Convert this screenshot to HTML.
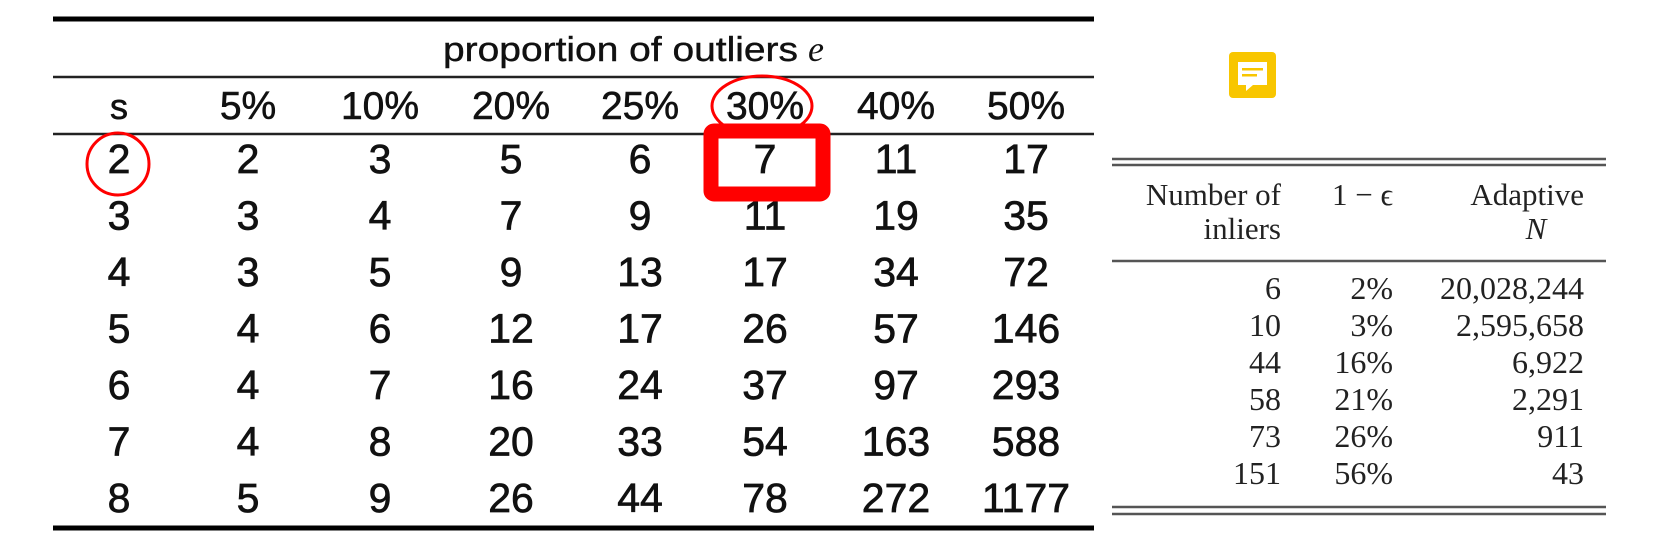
<!DOCTYPE html>
<html><head><meta charset="utf-8"><style>
html,body{margin:0;padding:0;background:#fff;}
svg{display:block;}
</style></head><body>
<svg id="chart" width="1653" height="545" viewBox="0 0 1653 545" xmlns="http://www.w3.org/2000/svg">
<rect width="1653" height="545" fill="#fff"/>
<g id="left"></g>
<g id="right"></g>
<g>
<rect x="1229" y="52" width="47" height="46" rx="4" fill="#F8C600"/>
<path d="M1238 62 H1267 V85 H1253 L1246 91 V85 H1238 Z" fill="#fff"/>
<rect x="1242" y="68" width="21" height="2.5" fill="#F8C600"/>
<rect x="1242" y="74" width="15" height="2.5" fill="#F8C600"/>
</g>
</svg>
<script>
const colLabels = ["5%","10%","20%","25%","30%","40%","50%"];
const sValues = [2,3,4,5,6,7,8];
const iterRows = [
 [2,3,5,6,7,11,17],
 [3,4,7,9,11,19,35],
 [3,5,9,13,17,34,72],
 [4,6,12,17,26,57,146],
 [4,7,16,24,37,97,293],
 [4,8,20,33,54,163,588],
 [5,9,26,44,78,272,1177]
];
const inliers = ["6","10","44","58","73","151"];
const oneMinusEps = ["2%","3%","16%","21%","26%","56%"];
const adaptiveN = ["20,028,244","2,595,658","6,922","2,291","911","43"];

const NS="http://www.w3.org/2000/svg";
function mk(parent,tag,attrs,text){const e=document.createElementNS(NS,tag);for(const k in attrs)e.setAttribute(k,attrs[k]);if(text!==undefined)e.textContent=text;parent.appendChild(e);return e;}

const L=document.getElementById('left');
const colX=[119,248,380,511,640,765,896,1026];
const rowY=i=>158+i*56.5;
const sans='"Liberation Sans", sans-serif';
let e;
e=mk(L,'line',{x1:53,x2:1094,y1:19,y2:19,stroke:'#000','stroke-width':5});


e=mk(L,'line',{x1:53,x2:1094,y1:77,y2:77,stroke:'#222','stroke-width':2.5});


e=mk(L,'line',{x1:53,x2:1094,y1:134,y2:134,stroke:'#222','stroke-width':2.5});


e=mk(L,'line',{x1:53,x2:1094,y1:528,y2:528,stroke:'#000','stroke-width':5});


const t=mk(L,'text',{x:443,y:61,'font-family':sans,'font-size':34,fill:'#111','stroke':'#111','stroke-width':0.4});


const t1=mk(t,'tspan',{textLength:355,lengthAdjust:'spacingAndGlyphs'},'proportion of outliers');
const t2=mk(t,'tspan',{x:808,'font-family':'"Liberation Serif", serif','font-style':'italic','font-size':36,'stroke-width':0},'e');
e=mk(L,'text',{x:colX[0],y:119,'text-anchor':'middle','font-family':sans,'font-size':36,fill:'#111','stroke':'#111','stroke-width':0.6},'s');


colLabels.forEach((c,j)=>{
 const h=mk(L,'text',{x:colX[j+1],y:119,'text-anchor':'middle','font-family':sans,'font-size':39,fill:'#111','stroke':'#111','stroke-width':0.6},c);
 
 
});
sValues.forEach((s,i)=>{
 const y=rowY(i)+15;
 const a=mk(L,'text',{x:colX[0],y:y,'text-anchor':'middle','font-family':sans,'font-size':41,fill:'#111','stroke':'#111','stroke-width':0.7},s);
 
 
 iterRows[i].forEach((v,j)=>{
  const c=mk(L,'text',{x:colX[j+1],y:y,'text-anchor':'middle','font-family':sans,'font-size':41,fill:'#111','stroke':'#111','stroke-width':0.7},v);
  
  
 });
});
// annotations
e=mk(L,'circle',{cx:118,cy:164,r:31,fill:'none',stroke:'#f00','stroke-width':3});


e=mk(L,'ellipse',{cx:762,cy:106,rx:50,ry:30,fill:'none',stroke:'#f00','stroke-width':3});


e=mk(L,'rect',{x:711,y:131,width:112,height:63,rx:3,fill:'none',stroke:'#f00','stroke-width':15});



const R=document.getElementById('right');
const serif='"Liberation Serif", serif';
[[159,2.5],[165,2.5],[261,2.5],[507,2.5],[514,2.5]].forEach((l,k)=>{
 const ln=mk(R,'line',{x1:1112,x2:1606,y1:l[0],y2:l[0],stroke:'#555','stroke-width':l[1]});
 
 
});
const hdr=[[1281,205,'Number of','normal'],[1281,239,'inliers','normal'],[1393,205,'1 − ϵ','normal'],[1584,205,'Adaptive','normal'],[1536,239,'N','italic']];
hdr.forEach((h,k)=>{
 const ht=mk(R,'text',{x:h[0],y:h[1],'text-anchor':(k===4?'middle':'end'),'font-family':serif,'font-size':31,'font-style':h[3],fill:'#222'},h[2]);
 
 
});
inliers.forEach((v,i)=>{
 const y=288+i*37+11;
 const a=mk(R,'text',{x:1281,y:y,'text-anchor':'end','font-family':serif,'font-size':32,fill:'#222'},v);
 
 
 const b=mk(R,'text',{x:1393,y:y,'text-anchor':'end','font-family':serif,'font-size':32,fill:'#222'},oneMinusEps[i]);
 
 
 const c=mk(R,'text',{x:1584,y:y,'text-anchor':'end','font-family':serif,'font-size':32,fill:'#222'},adaptiveN[i]);
 
 
});
</script>
</body></html>
